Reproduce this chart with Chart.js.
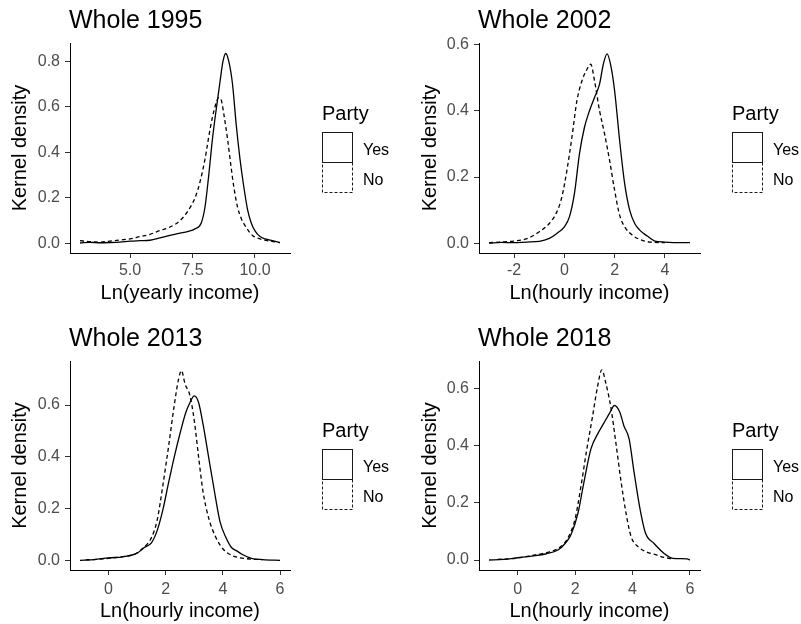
<!DOCTYPE html>
<html>
<head>
<meta charset="utf-8">
<script src="https://cdn.jsdelivr.net/npm/chart.js@4.4.1/dist/chart.umd.min.js"></script>
<style>
  html, body { margin: 0; padding: 0; background: #fff; }
  #wrap { position: relative; width: 801px; height: 624px; overflow: hidden; background: #fff; }
  #wrap canvas { position: absolute; }
</style>
</head>
<body>
<div id="wrap">
  <canvas id="c1995" width="400" height="312" style="left:0px;top:0px"></canvas>
  <canvas id="c2002" width="401" height="312" style="left:400px;top:0px"></canvas>
  <canvas id="c2013" width="400" height="312" style="left:0px;top:312px"></canvas>
  <canvas id="c2018" width="401" height="312" style="left:400px;top:312px"></canvas>
</div>
<script>
// ---- series labels and legend ----
const seriesLabels = ['Yes', 'No'];
const legendTitle = 'Party';
const yTitle = 'Kernel density';

// ---- 1995: ln(yearly income) ----
const yes1995X = [3.0, 3.4, 3.8, 4.2, 4.6, 5.0, 5.4, 5.8, 6.2, 6.6, 7.0, 7.3, 7.6, 7.85, 8.0, 8.15, 8.3, 8.45, 8.6, 8.72, 8.83, 8.95, 9.1, 9.25, 9.4, 9.55, 9.7, 9.85, 10.0, 10.2, 10.4, 10.7, 11.0];
const yes1995Y = [0.002, 0.005, 0.003, 0.004, 0.006, 0.01, 0.012, 0.014, 0.024, 0.035, 0.045, 0.052, 0.064, 0.09, 0.16, 0.30, 0.46, 0.59, 0.71, 0.80, 0.834, 0.80, 0.70, 0.52, 0.37, 0.25, 0.15, 0.09, 0.055, 0.03, 0.02, 0.012, 0.004];
const no1995X = [3.0, 3.4, 3.8, 4.2, 4.6, 5.0, 5.4, 5.8, 6.2, 6.6, 7.0, 7.3, 7.6, 7.8, 8.0, 8.2, 8.4, 8.55, 8.65, 8.75, 8.9, 9.05, 9.15, 9.3, 9.45, 9.65, 9.9, 10.2, 10.6, 11.0];
const no1995Y = [0.012, 0.008, 0.006, 0.01, 0.015, 0.02, 0.03, 0.04, 0.057, 0.072, 0.10, 0.14, 0.20, 0.27, 0.37, 0.50, 0.60, 0.64, 0.63, 0.57, 0.46, 0.33, 0.25, 0.16, 0.11, 0.07, 0.035, 0.02, 0.01, 0.004];

// ---- 2002: ln(hourly income) ----
const yes2002X = [-3, -2.5, -2, -1.5, -1, -0.6, -0.3, 0, 0.2, 0.4, 0.6, 0.8, 1.0, 1.2, 1.4, 1.55, 1.7, 1.85, 2.0, 2.2, 2.4, 2.6, 2.8, 3.0, 3.3, 3.6, 4.0, 4.5, 5.0];
const yes2002Y = [0.001, 0.003, 0.002, 0.004, 0.006, 0.015, 0.03, 0.05, 0.08, 0.15, 0.27, 0.35, 0.40, 0.44, 0.48, 0.54, 0.571, 0.535, 0.46, 0.31, 0.18, 0.10, 0.06, 0.04, 0.022, 0.007, 0.004, 0.002, 0.002];
const no2002X = [-3, -2.5, -2, -1.5, -1, -0.6, -0.3, -0.1, 0.1, 0.3, 0.5, 0.7, 0.9, 1.05, 1.2, 1.4, 1.6, 1.8, 2.0, 2.2, 2.4, 2.7, 3.0, 3.4, 4.0];
const no2002Y = [0.002, 0.004, 0.007, 0.014, 0.035, 0.06, 0.095, 0.14, 0.22, 0.32, 0.43, 0.49, 0.525, 0.54, 0.49, 0.40, 0.33, 0.25, 0.16, 0.085, 0.05, 0.025, 0.012, 0.004, 0.002];

// ---- 2013: ln(hourly income) ----
const yes2013X = [-1, -0.5, 0, 0.5, 1.0, 1.25, 1.5, 1.7, 1.9, 2.1, 2.3, 2.5, 2.7, 2.85, 3.0, 3.15, 3.3, 3.5, 3.7, 3.9, 4.1, 4.3, 4.5, 4.7, 5.0, 5.4, 6.0];
const yes2013Y = [0, 0.003, 0.01, 0.014, 0.028, 0.05, 0.068, 0.115, 0.195, 0.30, 0.40, 0.49, 0.57, 0.61, 0.635, 0.61, 0.53, 0.40, 0.27, 0.15, 0.09, 0.05, 0.036, 0.022, 0.008, 0.003, 0.0];
const no2013X = [-0.8, -0.4, 0, 0.5, 0.9, 1.25, 1.5, 1.7, 1.9, 2.1, 2.3, 2.45, 2.55, 2.68, 2.84, 3.0, 3.15, 3.3, 3.5, 3.75, 4.0, 4.3, 4.6, 5.0, 5.4];
const no2013Y = [0.002, 0.004, 0.008, 0.015, 0.023, 0.052, 0.088, 0.155, 0.29, 0.44, 0.60, 0.70, 0.733, 0.68, 0.64, 0.54, 0.40, 0.27, 0.165, 0.09, 0.045, 0.02, 0.01, 0.005, 0.003];

// ---- 2018: ln(hourly income) ----
const yes2018X = [-1, -0.5, 0, 0.5, 1.0, 1.4, 1.65, 1.85, 2.1, 2.3, 2.55, 2.8, 3.0, 3.2, 3.37, 3.55, 3.7, 3.88, 4.05, 4.25, 4.45, 4.75, 5.1, 5.4, 5.9, 6.0];
const yes2018Y = [0, 0.002, 0.008, 0.014, 0.022, 0.035, 0.058, 0.088, 0.165, 0.27, 0.39, 0.445, 0.48, 0.515, 0.542, 0.52, 0.47, 0.425, 0.31, 0.185, 0.095, 0.058, 0.023, 0.006, 0.004, 0.0];
const no2018X = [-0.7, -0.3, 0, 0.5, 1.0, 1.5, 1.75, 2.0, 2.2, 2.4, 2.6, 2.78, 2.93, 3.07, 3.24, 3.42, 3.6, 3.78, 3.95, 4.2, 4.5, 4.8, 5.1, 5.35];
const no2018Y = [0.002, 0.004, 0.007, 0.016, 0.026, 0.047, 0.078, 0.145, 0.257, 0.385, 0.50, 0.608, 0.667, 0.62, 0.538, 0.41, 0.275, 0.16, 0.082, 0.046, 0.028, 0.019, 0.009, 0.005];

// ---- tick labels ----
const xTicks1995 = [5.0, 7.5, 10.0];
const xTicksHourly2002 = [-2, 0, 2, 4];
const xTicksHourly = [0, 2, 4, 6];
const yTicks1995 = [0.0, 0.2, 0.4, 0.6, 0.8];
const yTicksOther = [0.0, 0.2, 0.4, 0.6];

const FONT = "'Liberation Sans', Arial, Helvetica, sans-serif";
Chart.defaults.font.family = FONT;

const pts = (xs, ys) => xs.map((x, i) => ({ x: x, y: ys[i] }));

// Panel title plus the "Party" key drawn beside the plotting area
const panelDecor = {
  id: 'panelDecor',
  afterDraw(chart, args, opts) {
    const ctx = chart.ctx;
    const a = chart.chartArea;
    ctx.save();
    ctx.fillStyle = '#000';
    ctx.textAlign = 'left';
    ctx.textBaseline = 'alphabetic';
    ctx.font = '25px ' + FONT;
    ctx.fillText(opts.title, a.left - 1, a.top - 15);

    const lx = a.right + 32;
    const top = Math.round(a.bottom - 121);
    ctx.font = '20px ' + FONT;
    ctx.fillText(legendTitle, lx, top - 12);
    chart.data.datasets.forEach((ds, i) => {
      const y = top + i * 30;
      ctx.lineWidth = 1;
      ctx.strokeStyle = '#1a1a1a';
      ctx.setLineDash(ds.borderDash && ds.borderDash.length ? [3, 2] : []);
      ctx.strokeRect(lx + 0.5, y + 0.5, 30, 30);
      ctx.setLineDash([]);
      ctx.font = '16px ' + FONT;
      ctx.textBaseline = 'middle';
      ctx.fillText(ds.label, lx + 41, y + 18.5);
      ctx.textBaseline = 'alphabetic';
    });
    ctx.restore();
  }
};

function makePanel(p) {
  const g = p.geom;
  return new Chart(document.getElementById(p.id), {
    type: 'line',
    data: {
      datasets: [
        { label: seriesLabels[0], data: pts(p.yesX, p.yesY), borderColor: '#000', borderWidth: 1.3,
          pointRadius: 0, fill: false, cubicInterpolationMode: 'monotone' },
        { label: seriesLabels[1], data: pts(p.noX, p.noY), borderColor: '#000', borderWidth: 1.3,
          borderDash: [4, 3], pointRadius: 0, fill: false, cubicInterpolationMode: 'monotone' }
      ]
    },
    options: {
      responsive: false,
      animation: false,
      devicePixelRatio: 1,
      layout: { padding: { left: 0, right: g.padRight, top: g.padTop, bottom: 0 } },
      plugins: {
        legend: { display: false },
        tooltip: { enabled: false },
        panelDecor: { title: p.title }
      },
      scales: {
        x: {
          type: 'linear',
          min: p.xMin, max: p.xMax,
          afterBuildTicks: s => { s.ticks = p.xTicks.map(v => ({ value: v })); },
          afterFit: s => { s.height = g.xAxisHeight; },
          ticks: {
            autoSkip: false, maxRotation: 0, minRotation: 0,
            color: '#4d4d4d', font: { size: 16 }, padding: g.xTickPad,
            callback: v => v.toFixed(p.xDigits)
          },
          grid: { display: true, drawOnChartArea: false, drawTicks: true, tickLength: 5, color: '#333333', lineWidth: 1 },
          border: { display: true, color: '#000', width: 1 },
          title: { display: true, text: p.xTitle, color: '#000', font: { size: 20 }, padding: { top: 0, bottom: g.xTitlePad } }
        },
        y: {
          type: 'linear',
          min: p.yMin, max: p.yMax,
          afterBuildTicks: s => { s.ticks = p.yTicks.map(v => ({ value: v })); },
          afterFit: s => { s.width = g.yAxisWidth; },
          ticks: {
            autoSkip: false,
            color: '#4d4d4d', font: { size: 16 }, padding: 5,
            callback: v => v.toFixed(1)
          },
          grid: { display: true, drawOnChartArea: false, drawTicks: true, tickLength: 5, color: '#333333', lineWidth: 1 },
          border: { display: true, color: '#000', width: 1 },
          title: { display: true, text: yTitle, color: '#000', font: { size: 20 }, padding: { top: g.yTitlePad, bottom: 0 } }
        }
      }
    },
    plugins: [panelDecor]
  });
}

makePanel({
  id: 'c1995', title: 'Whole 1995', xTitle: 'Ln(yearly income)',
  xMin: 2.6, xMax: 11.4, yMin: -0.042, yMax: 0.880,
  xTicks: xTicks1995, yTicks: yTicks1995, xDigits: 1,
  yesX: yes1995X, yesY: yes1995Y, noX: no1995X, noY: no1995Y,
  geom: { padTop: 43, padRight: 110, yAxisWidth: 70, xAxisHeight: 59, xTickPad: 3, xTitlePad: 7, yTitlePad: 8.5 }
});
makePanel({
  id: 'c2002', title: 'Whole 2002', xTitle: 'Ln(hourly income)',
  xMin: -3.4, xMax: 5.4, yMin: -0.029, yMax: 0.604,
  xTicks: xTicksHourly2002, yTicks: yTicksOther, xDigits: 0,
  yesX: yes2002X, yesY: yes2002Y, noX: no2002X, noY: no2002Y,
  geom: { padTop: 43, padRight: 101, yAxisWidth: 79, xAxisHeight: 59, xTickPad: 3, xTitlePad: 7, yTitlePad: 18.5 }
});
makePanel({
  id: 'c2013', title: 'Whole 2013', xTitle: 'Ln(hourly income)',
  xMin: -1.35, xMax: 6.35, yMin: -0.037, yMax: 0.770,
  xTicks: xTicksHourly, yTicks: yTicksOther, xDigits: 0,
  yesX: yes2013X, yesY: yes2013Y, noX: no2013X, noY: no2013Y,
  geom: { padTop: 49, padRight: 110, yAxisWidth: 70, xAxisHeight: 54, xTickPad: 5, xTitlePad: 1, yTitlePad: 8.5 }
});
makePanel({
  id: 'c2018', title: 'Whole 2018', xTitle: 'Ln(hourly income)',
  xMin: -1.35, xMax: 6.35, yMin: -0.035, yMax: 0.698,
  xTicks: xTicksHourly, yTicks: yTicksOther, xDigits: 0,
  yesX: yes2018X, yesY: yes2018Y, noX: no2018X, noY: no2018Y,
  geom: { padTop: 49, padRight: 101, yAxisWidth: 79, xAxisHeight: 54, xTickPad: 5, xTitlePad: 1, yTitlePad: 18.5 }
});
</script>
</body>
</html>
